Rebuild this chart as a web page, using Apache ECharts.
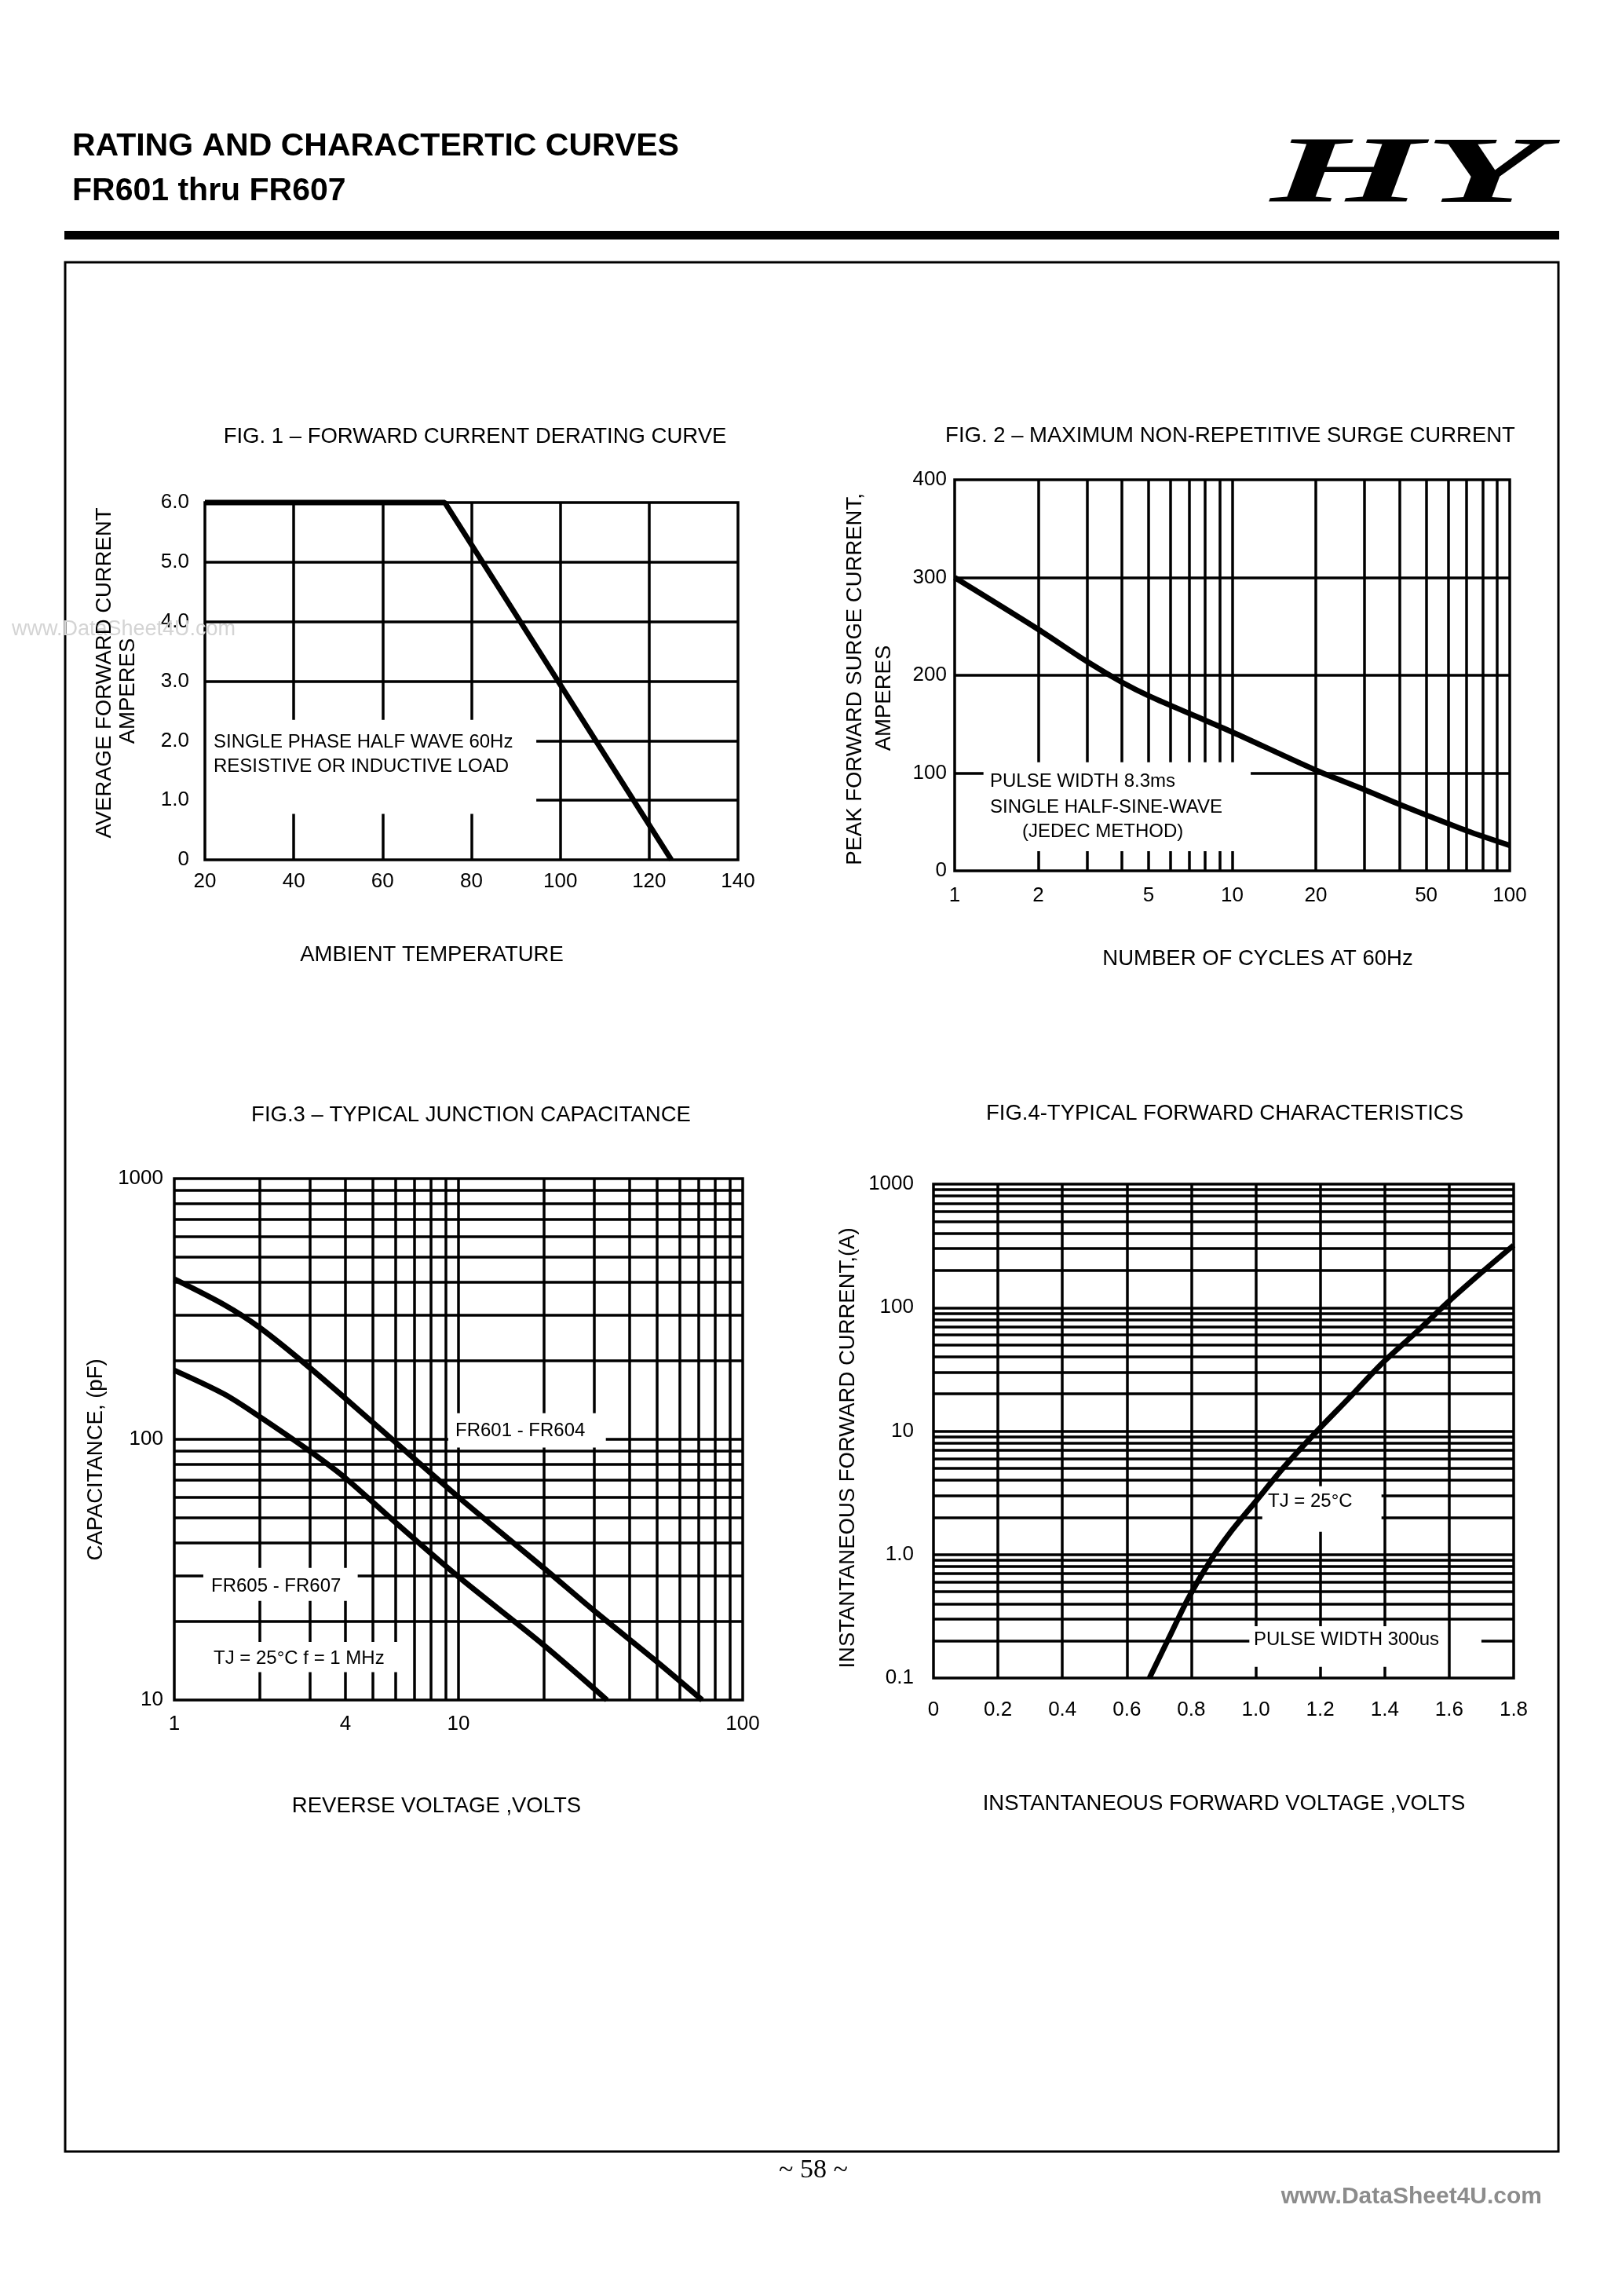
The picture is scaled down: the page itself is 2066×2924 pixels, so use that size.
<!DOCTYPE html>
<html><head><meta charset="utf-8">
<script src="https://cdn.jsdelivr.net/npm/echarts@6/dist/echarts.min.js"></script>
<style>html,body{margin:0;padding:0;background:#fff}#c{width:2066px;height:2924px}</style>
</head><body><div id="c"></div>
<script>
// ---------- Fig.1 forward current derating ----------
const fig1Temp = [20, 74, 125];
const fig1Current = [6.0, 6.0, 0];
const fig1XGrid = [40, 60, 80, 100, 120];
const fig1YGrid = [1, 2, 3, 4, 5];
const fig1Blank = [{x: [20, 94.6], y: [0.77, 2.35]}];

// ---------- Fig.2 surge current ----------
const fig2Cycles = [1, 2, 3, 4, 5, 7, 10, 20, 30, 40, 50, 70, 100];
const fig2Surge = [300, 247, 214, 193, 179, 161, 142, 103, 83, 68, 57, 41, 26];
const fig2XTicks = [1, 2, 5, 10, 20, 50, 100];
const fig2XGrid = [2, 3, 4, 5, 6, 7, 8, 9, 10, 20, 30, 40, 50, 60, 70, 80, 90];
const fig2YGrid = [100, 200, 300];
const fig2Blank = [{x: [1.27, 11.66], y: [20, 111]}];

// ---------- Fig.3 junction capacitance ----------
const fig3VoltageA = [1, 1.5, 2, 3, 5, 10, 20, 30, 50, 72];
const fig3CapA = [412, 328, 268, 188, 116, 60, 32, 22, 14, 10];
const fig3VoltageB = [1, 1.5, 2, 3, 4, 6, 10, 20, 33.3];
const fig3CapB = [184, 149, 122, 90, 71, 48, 29.7, 16.2, 10];
const fig3XTicks = [1, 4, 10, 100];
const fig3YTicks = [10, 100, 1000];
const fig3XGrid = [2, 3, 4, 5, 6, 7, 8, 9, 10, 20, 30, 40, 50, 60, 70, 80, 90];
const fig3YGrid = [20, 30, 40, 50, 60, 70, 80, 90, 100, 200, 300, 400, 500, 600, 700, 800, 900];
const fig3Blank = [
  {x: [9.2, 33], y: [93, 126]},
  {x: [1.265, 4.42], y: [24, 32.1]},
  {x: [1.2, 6.5], y: [12.8, 16.7]}
];

// ---------- Fig.4 forward characteristics ----------
const fig4Voltage = [0.67, 0.73, 0.79, 0.86, 0.92, 1.0, 1.09, 1.19, 1.29, 1.39, 1.5, 1.6, 1.7, 1.8];
const fig4Current = [0.1, 0.21, 0.44, 0.9, 1.5, 2.7, 5.2, 10, 18.6, 35, 64, 113, 192, 320];
const fig4YTicks = [0.1, 1, 10, 100, 1000];
const fig4YTickLabels = ['0.1', '1.0', '10', '100', '1000'];
const fig4XGrid = [0.2, 0.4, 0.6, 0.8, 1.0, 1.2, 1.4, 1.6];
const fig4YGrid = [0.2, 0.3, 0.4, 0.5, 0.6, 0.7, 0.8, 0.9, 1, 2, 3, 4, 5, 6, 7, 8, 9, 10,
  20, 30, 40, 50, 60, 70, 80, 90, 100, 200, 300, 400, 500, 600, 700, 800, 900];
const fig4Blank = [
  {x: [1.02, 1.39], y: [1.53, 3.58]},
  {x: [0.98, 1.5], y: [0.123, 0.263]},
  {x: [1.5, 1.70], y: [0.19, 0.21], noVertical: true}
];

// ---------- helpers ----------
const FONT = '"Liberation Sans", Arial, Helvetica, sans-serif';
function cut(parts, a, b) {
  const out = [];
  parts.forEach(function (p) {
    const s = p[0], e = p[1];
    if (b <= s || a >= e) { out.push([s, e]); return; }
    if (a > s) out.push([s, a]);
    if (b < e) out.push([b, e]);
  });
  return out;
}
function gridSegments(xs, ys, xr, yr, blanks) {
  const segs = [];
  xs.forEach(function (x) {
    let parts = [[yr[0], yr[1]]];
    blanks.forEach(function (b) {
      if (!b.noVertical && x > b.x[0] && x < b.x[1]) parts = cut(parts, b.y[0], b.y[1]);
    });
    parts.forEach(function (p) { segs.push({coords: [[x, p[0]], [x, p[1]]]}); });
  });
  ys.forEach(function (y) {
    let parts = [[xr[0], xr[1]]];
    blanks.forEach(function (b) {
      if (y > b.y[0] && y < b.y[1]) parts = cut(parts, b.x[0], b.x[1]);
    });
    parts.forEach(function (p) { segs.push({coords: [[p[0], y], [p[1], y]]}); });
  });
  return segs;
}
function pairs(xs, ys) { return xs.map(function (x, i) { return [x, ys[i]]; }); }
function gridSeries(idx, segs) {
  return {
    type: 'lines', coordinateSystem: 'cartesian2d', xAxisIndex: idx, yAxisIndex: idx,
    polyline: false, silent: true, z: 1, animation: false,
    lineStyle: {color: '#000', width: 3.5, opacity: 1, type: 'solid'},
    data: segs
  };
}
function curveSeries(idx, data, smooth) {
  return {
    type: 'line', xAxisIndex: idx, yAxisIndex: idx, data: data, z: 3,
    showSymbol: false, symbol: 'none', smooth: smooth, clip: false, silent: true,
    lineStyle: {color: '#000', width: 7}, animation: false
  };
}
function lab(margin, extra) {
  return Object.assign({color: '#000', fontFamily: FONT, fontSize: 26, margin: margin}, extra || {});
}
const hide = {axisLine: {show: false}, axisTick: {show: false}, splitLine: {show: false}};
function axis(o) { return Object.assign({}, hide, o); }
function lookup(values, labels) {
  return function (v) {
    for (let i = 0; i < values.length; i++) {
      if (Math.abs(values[i] - v) <= 1e-6 * Math.max(1, Math.abs(values[i]))) return labels[i];
    }
    return '';
  };
}
function txt(x, y, s, o) {
  o = o || {};
  return {
    type: 'text', x: x, y: y, rotation: o.rot || 0, scaleX: o.sx || 1, z: 10, silent: true,
    style: {
      text: s, fill: o.fill || '#000',
      font: o.font || ('27.5px ' + FONT),
      align: o.align || 'center', verticalAlign: 'middle'
    }
  };
}
const ANN = '24px ' + FONT;
const ROT = Math.PI / 2;

const option = {
  animation: false,
  backgroundColor: '#fff',
  grid: [
    {left: 261, top: 640, width: 679, height: 455},
    {left: 1216, top: 611, width: 707, height: 498},
    {left: 222, top: 1501, width: 724, height: 664},
    {left: 1189, top: 1508, width: 739, height: 629}
  ].map(function (g) {
    return Object.assign({show: true, borderColor: '#000', borderWidth: 3.5, backgroundColor: 'transparent', containLabel: false}, g);
  }),
  xAxis: [
    axis({type: 'value', gridIndex: 0, min: 20, max: 140, interval: 20, axisLabel: lab(15)}),
    axis({type: 'log', logBase: 10, gridIndex: 1, min: 1, max: 100,
      axisLabel: lab(19, {customValues: fig2XTicks, formatter: function (v) { return String(Math.round(v)); }})}),
    axis({type: 'log', logBase: 10, gridIndex: 2, min: 1, max: 100,
      axisLabel: lab(18, {customValues: fig3XTicks, formatter: function (v) { return String(Math.round(v)); }})}),
    axis({type: 'value', gridIndex: 3, min: 0, max: 1.8, interval: 0.2,
      axisLabel: lab(28, {formatter: function (v) { return v === 0 ? '0' : v.toFixed(1); }})})
  ],
  yAxis: [
    axis({type: 'value', gridIndex: 0, min: 0, max: 6, interval: 1,
      axisLabel: lab(20, {formatter: function (v) { return v === 0 ? '0' : v.toFixed(1); }})}),
    axis({type: 'value', gridIndex: 1, min: 0, max: 400, interval: 100, axisLabel: lab(10)}),
    axis({type: 'log', logBase: 10, gridIndex: 2, min: 10, max: 1000,
      axisLabel: lab(14, {customValues: fig3YTicks, formatter: function (v) { return String(Math.round(v)); }})}),
    axis({type: 'log', logBase: 10, gridIndex: 3, min: 0.1, max: 1000,
      axisLabel: lab(25, {customValues: fig4YTicks, formatter: lookup(fig4YTicks, fig4YTickLabels)})})
  ],
  series: [
    gridSeries(0, gridSegments(fig1XGrid, fig1YGrid, [20, 140], [0, 6], fig1Blank)),
    curveSeries(0, pairs(fig1Temp, fig1Current), false),
    gridSeries(1, gridSegments(fig2XGrid, fig2YGrid, [1, 100], [0, 400], fig2Blank)),
    curveSeries(1, pairs(fig2Cycles, fig2Surge), 0.3),
    gridSeries(2, gridSegments(fig3XGrid, fig3YGrid, [1, 100], [10, 1000], fig3Blank)),
    curveSeries(2, pairs(fig3VoltageA, fig3CapA), 0.3),
    curveSeries(2, pairs(fig3VoltageB, fig3CapB), 0.3),
    gridSeries(3, gridSegments(fig4XGrid, fig4YGrid, [0, 1.8], [0.1, 1000], fig4Blank)),
    curveSeries(3, pairs(fig4Voltage, fig4Current), 0.3)
  ],
  graphic: {elements: [
    // page header
    txt(92, 187, 'RATING AND CHARACTERTIC CURVES', {align: 'left', font: 'bold 41px ' + FONT}),
    txt(92, 244, 'FR601 thru FR607', {align: 'left', font: 'bold 41px ' + FONT}),
    txt(1618, 226, 'HY', {align: 'left', sx: 2.1, font: 'italic bold 120px "Liberation Serif", "DejaVu Serif", serif'}),
    {type: 'rect', shape: {x: 82, y: 294, width: 1904, height: 11}, style: {fill: '#000'}, silent: true},
    {type: 'rect', shape: {x: 83, y: 334, width: 1902, height: 2406}, style: {fill: 'none', stroke: '#000', lineWidth: 3}, silent: true},
    txt(300, 802, 'www.DataSheet4U.com', {align: 'right', fill: '#d4d4d4', font: '27px ' + FONT}),
    txt(1036, 2764, '~ 58 ~', {font: '34px "Liberation Serif", serif'}),
    txt(1964, 2798, 'www.DataSheet4U.com', {align: 'right', fill: '#8c8c8c', font: 'bold 30px ' + FONT}),

    // Fig.1
    txt(605, 556, 'FIG. 1 \u2013 FORWARD CURRENT DERATING CURVE'),
    txt(133, 857, 'AVERAGE FORWARD CURRENT', {rot: ROT}),
    txt(163, 880, 'AMPERES', {rot: ROT}),
    txt(550, 1216, 'AMBIENT TEMPERATURE'),
    txt(272, 945, 'SINGLE PHASE HALF WAVE 60Hz', {align: 'left', font: ANN}),
    txt(272, 976, 'RESISTIVE OR INDUCTIVE LOAD', {align: 'left', font: ANN}),

    // Fig.2
    txt(1567, 555, 'FIG. 2 \u2013 MAXIMUM NON-REPETITIVE SURGE CURRENT'),
    txt(1089, 865, 'PEAK FORWARD SURGE CURRENT,', {rot: ROT}),
    txt(1126, 889, 'AMPERES', {rot: ROT}),
    txt(1602, 1221, 'NUMBER OF CYCLES AT 60Hz'),
    txt(1261, 995, 'PULSE WIDTH 8.3ms', {align: 'left', font: ANN}),
    txt(1261, 1028, 'SINGLE HALF-SINE-WAVE', {align: 'left', font: ANN}),
    txt(1302, 1059, '(JEDEC METHOD)', {align: 'left', font: ANN}),

    // Fig.3
    txt(600, 1420, 'FIG.3 \u2013 TYPICAL JUNCTION CAPACITANCE'),
    txt(122, 1859, 'CAPACITANCE, (pF)', {rot: ROT}),
    txt(556, 2300, 'REVERSE VOLTAGE ,VOLTS'),
    txt(580, 1822, 'FR601 - FR604', {align: 'left', font: ANN}),
    txt(269, 2020, 'FR605 - FR607', {align: 'left', font: ANN}),
    txt(272, 2112, 'TJ = 25\u00B0C f = 1 MHz', {align: 'left', font: ANN}),

    // Fig.4
    txt(1560, 1418, 'FIG.4-TYPICAL FORWARD CHARACTERISTICS'),
    txt(1080, 1844, 'INSTANTANEOUS FORWARD CURRENT,(A)', {rot: ROT}),
    txt(1559, 2297, 'INSTANTANEOUS FORWARD VOLTAGE ,VOLTS'),
    txt(1615, 1912, 'TJ = 25\u00B0C', {align: 'left', font: ANN}),
    txt(1597, 2088, 'PULSE WIDTH 300us', {align: 'left', font: ANN})
  ]}
};

const chart = echarts.init(document.getElementById('c'), null, {renderer: 'canvas', width: 2066, height: 2924});
chart.setOption(option);
</script>
</body></html>
